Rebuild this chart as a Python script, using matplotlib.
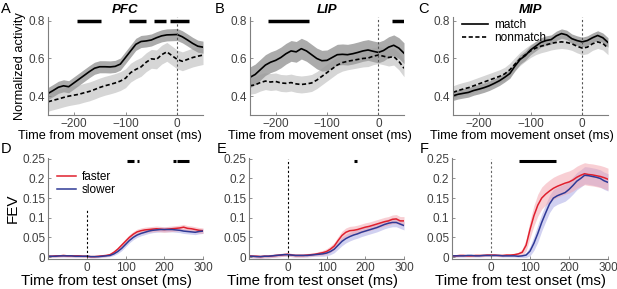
import numpy as np
import matplotlib
matplotlib.use("Agg")
import matplotlib.pyplot as plt

plt.rcParams['font.family'] = ['Liberation Sans', 'DejaVu Sans']

# ---- top row: normalized activity around movement onset ----
t_top = np.arange(-250, 51, 10)

pfc_match = [0.414, 0.43, 0.447, 0.455, 0.45, 0.47, 0.49, 0.51, 0.53, 0.548, 0.556,
             0.556, 0.555, 0.558, 0.57, 0.605, 0.64, 0.675, 0.69, 0.693, 0.698,
             0.71, 0.72, 0.725, 0.726, 0.727, 0.715, 0.698, 0.68, 0.665, 0.66]
pfc_nonmatch = [0.37, 0.378, 0.385, 0.393, 0.4, 0.405, 0.41, 0.418, 0.425, 0.435, 0.446,
                0.455, 0.462, 0.47, 0.48, 0.495, 0.525, 0.542, 0.555, 0.58, 0.598,
                0.595, 0.62, 0.635, 0.615, 0.595, 0.585, 0.595, 0.605, 0.612, 0.618]
lip_match = [0.50, 0.515, 0.54, 0.565, 0.58, 0.59, 0.605, 0.625, 0.64, 0.635, 0.652,
             0.64, 0.62, 0.6, 0.588, 0.59, 0.605, 0.62, 0.622, 0.62, 0.625,
             0.632, 0.64, 0.645, 0.638, 0.632, 0.642, 0.66, 0.67, 0.655, 0.628]
lip_nonmatch = [0.455, 0.46, 0.472, 0.48, 0.475, 0.478, 0.47, 0.468, 0.472, 0.465, 0.462,
                0.465, 0.47, 0.485, 0.505, 0.525, 0.545, 0.565, 0.578, 0.585, 0.59,
                0.595, 0.6, 0.602, 0.612, 0.618, 0.612, 0.605, 0.61, 0.585, 0.548]
mip_match = [0.402, 0.41, 0.415, 0.42, 0.43, 0.437, 0.445, 0.455, 0.468, 0.482, 0.5,
             0.52, 0.56, 0.595, 0.615, 0.645, 0.665, 0.685, 0.695, 0.7, 0.72,
             0.732, 0.725, 0.705, 0.695, 0.688, 0.695, 0.71, 0.722, 0.71, 0.685]
mip_nonmatch = [0.42, 0.43, 0.438, 0.445, 0.455, 0.465, 0.475, 0.485, 0.495, 0.505, 0.518,
                0.54, 0.57, 0.598, 0.62, 0.64, 0.655, 0.665, 0.672, 0.68, 0.685,
                0.688, 0.685, 0.678, 0.665, 0.655, 0.66, 0.678, 0.688, 0.68, 0.655]
# half widths of the shaded bands (match, nonmatch)
pfc_sem = (0.032, 0.05)
lip_sem = (0.055, 0.045)
mip_sem = (0.025, 0.035)

# significance bars (start, end) in ms
pfc_bars = [(-194, -147), (-94, -61), (-45, -22), (-13, 22)]
lip_bars = [(-214, -135), (26, 50)]
mip_bars = []

# ---- bottom row: FEV around test onset ----
t_bot = np.arange(-100, 301, 10)

d_fast = [0.002, 0.002, 0.003, 0.003, 0.004, 0.003, 0.003, 0.003, 0.003, 0.002, 0.002,
          0.001, 0.001, 0.002, 0.003, 0.004, 0.006, 0.012, 0.02, 0.03, 0.04,
          0.05, 0.058, 0.064, 0.067, 0.069, 0.07, 0.071, 0.072, 0.071, 0.07,
          0.071, 0.072, 0.073, 0.074, 0.076, 0.073, 0.072, 0.07, 0.068, 0.067]
d_slow = [0.002, 0.002, 0.002, 0.003, 0.003, 0.003, 0.003, 0.002, 0.002, 0.002, 0.002,
          0.001, 0.001, 0.001, 0.002, 0.003, 0.004, 0.008, 0.014, 0.022, 0.032,
          0.042, 0.05, 0.056, 0.06, 0.063, 0.066, 0.068, 0.069, 0.07, 0.07,
          0.07, 0.07, 0.069, 0.068, 0.066, 0.065, 0.064, 0.063, 0.065, 0.066]
e_fast = [0.003, 0.002, 0.002, 0.001, 0.002, 0.002, 0.003, 0.004, 0.005, 0.006, 0.007,
          0.005, 0.004, 0.004, 0.004, 0.005, 0.006, 0.007, 0.009, 0.011, 0.014,
          0.02, 0.028, 0.042, 0.055, 0.063, 0.067, 0.068, 0.07, 0.073, 0.076,
          0.078, 0.081, 0.084, 0.087, 0.09, 0.092, 0.096, 0.097, 0.092, 0.092]
e_slow = [0.002, 0.002, 0.001, 0.001, 0.002, 0.002, 0.003, 0.004, 0.005, 0.006, 0.006,
          0.005, 0.004, 0.004, 0.004, 0.004, 0.005, 0.006, 0.007, 0.008, 0.01,
          0.014, 0.02, 0.03, 0.04, 0.047, 0.052, 0.056, 0.059, 0.063, 0.066,
          0.069, 0.072, 0.075, 0.079, 0.083, 0.086, 0.088, 0.088, 0.084, 0.08]
f_fast = [0.003, 0.003, 0.004, 0.004, 0.003, 0.003, 0.004, 0.004, 0.004, 0.005, 0.005,
          0.005, 0.004, 0.004, 0.005, 0.005, 0.006, 0.008, 0.012, 0.03, 0.07,
          0.105, 0.132, 0.15, 0.16, 0.168, 0.175, 0.18, 0.184, 0.188, 0.191,
          0.196, 0.203, 0.208, 0.212, 0.21, 0.209, 0.207, 0.205, 0.202, 0.198]
f_slow = [0.003, 0.003, 0.003, 0.003, 0.004, 0.004, 0.003, 0.003, 0.004, 0.004, 0.004,
          0.004, 0.004, 0.003, 0.003, 0.003, 0.003, 0.002, 0.003, 0.005, 0.015,
          0.035, 0.06, 0.088, 0.112, 0.135, 0.15, 0.156, 0.16, 0.164, 0.172,
          0.182, 0.193, 0.2, 0.208, 0.207, 0.205, 0.203, 0.2, 0.194, 0.19]
# band half widths, same time base
d_fast_sem = [0.003] * 17 + [0.004, 0.005, 0.006] + [0.007] * 21
d_slow_sem = [0.003] * 17 + [0.004, 0.005, 0.006] + [0.006] * 21
e_fast_sem = [0.004] * 17 + [0.004, 0.005, 0.006, 0.007, 0.008, 0.009, 0.01] + [0.011] * 17
e_slow_sem = [0.004] * 17 + [0.004, 0.005, 0.006, 0.007, 0.008, 0.009, 0.01] + [0.011] * 17
f_fast_sem = [0.003] * 17 + [0.004, 0.008, 0.015, 0.022, 0.026] + [0.028] * 19
f_slow_sem = [0.003] * 17 + [0.003, 0.004, 0.006, 0.012, 0.018] + [0.022] * 19

d_bars = [(103, 123), (129, 134), (222, 231), (232, 265)]
e_bars = [(171, 179)]
f_bars = [(73, 167)]

red = '#e0202e'
blue = '#2f3a96'
tick_col = '#404040'
spine_col = '#7f7f7f'


def style(ax):
    for s in ['top', 'right']:
        ax.spines[s].set_visible(False)
    for s in ['left', 'bottom']:
        ax.spines[s].set_color(spine_col)
        ax.spines[s].set_linewidth(0.8)
    ax.tick_params(direction='in', length=2.5, width=0.6, colors=spine_col,
                   labelcolor=tick_col, labelsize=8.5, pad=2)


# axes edges in pixels of the 617x289 picture
W, H = 617, 289
top_pos = [(48, 203), (250, 404), (453, 608)]
bot_pos = [(48, 203), (249, 404), (452, 608)]
top_label_x = [0.40, 0.455, 0.445]
bot_label_x = [0.375, 0.41, 0.44]

fig = plt.figure(figsize=(W / 100, H / 100), dpi=100)

top_sets = [
    ('PFC', pfc_match, pfc_nonmatch, pfc_sem, pfc_bars, 'A'),
    ('LIP', lip_match, lip_nonmatch, lip_sem, lip_bars, 'B'),
    ('MIP', mip_match, mip_nonmatch, mip_sem, mip_bars, 'C'),
]
for i, (name, m, nm, sem, bars, letter) in enumerate(top_sets):
    l, r = top_pos[i]
    ax = fig.add_axes([l / W, 1 - 115 / H, (r - l) / W, (115 - 17) / H])
    m = np.array(m)
    nm = np.array(nm)
    ax.fill_between(t_top, nm - sem[1], nm + sem[1], color='#d6d6d6', lw=0)
    ax.fill_between(t_top, m - sem[0], m + sem[0], color='#9c9c9c', lw=0, alpha=0.85)
    ax.plot(t_top, m, color='black', lw=1.2, label='match')
    ax.plot(t_top, nm, color='black', lw=1.2, ls=(0, (2.5, 1.5)), label='nonmatch')
    ax.axvline(0, color='#555555', lw=0.8, ls=(0, (2, 2)))
    for a, b in bars:
        ax.plot([a, b], [0.8, 0.8], color='black', lw=2.5, solid_capstyle='butt')
    ax.set_xlim(-250, 50)
    ax.set_ylim(0.3, 0.82)
    ax.set_xticks([-200, -100, 0])
    ax.set_yticks([0.4, 0.6, 0.8])
    style(ax)
    ax.set_xlabel('Time from movement onset (ms)', fontsize=9.2)
    ax.xaxis.set_label_coords(top_label_x[i], -0.155)
    ax.set_title(name, fontsize=9.5, fontweight='bold', fontstyle='italic', pad=3)
    if i == 0:
        ax.set_ylabel('Normalized activity', fontsize=9.3, labelpad=2)
    if i == 2:
        ax.legend(loc='upper left', frameon=False, fontsize=8.5, handlelength=2.2,
                  borderaxespad=0.1, labelspacing=0.1, handletextpad=0.5,
                  bbox_to_anchor=(0.02, 1.04))
    fig.text(1 / W if i == 0 else (l - 35) / W, 1 - 9 / H, letter,
             fontsize=10.5, va='center', ha='left')

bot_sets = [
    (d_fast, d_slow, d_fast_sem, d_slow_sem, d_bars, 'D', 0.12, 'black'),
    (e_fast, e_slow, e_fast_sem, e_slow_sem, e_bars, 'E', 0.25, 'black'),
    (f_fast, f_slow, f_fast_sem, f_slow_sem, f_bars, 'F', 0.25, '#666666'),
]
for i, (fa, sl, fs, ss, bars, letter, vtop, vcol) in enumerate(bot_sets):
    l, r = bot_pos[i]
    ax = fig.add_axes([l / W, 1 - 259 / H, (r - l) / W, (259 - 158) / H])
    fa, sl, fs, ss = map(np.array, (fa, sl, fs, ss))
    ax.fill_between(t_bot, sl - ss, sl + ss, color='#9a9ae0', alpha=0.45, lw=0)
    ax.fill_between(t_bot, fa - fs, fa + fs, color='#f3a0aa', alpha=0.5, lw=0)
    ax.plot(t_bot, fa, color=red, lw=1.1, label='faster')
    ax.plot(t_bot, sl, color=blue, lw=1.1, label='slower')
    ax.plot([0, 0], [0, vtop], color=vcol, lw=0.8, ls=(0, (2, 2)))
    for a, b in bars:
        ax.plot([a, b], [0.245, 0.245], color='black', lw=2.2, solid_capstyle='butt')
    ax.set_xlim(-100, 300)
    ax.set_ylim(-0.005, 0.252)
    ax.set_xticks([0, 100, 200, 300])
    ax.set_yticks([0, 0.05, 0.1, 0.15, 0.2, 0.25])
    ax.set_yticklabels(['0', '0.05', '0.1', '0.15', '0.2', '0.25'])
    style(ax)
    ax.set_xlabel('Time from test onset (ms)', fontsize=10.8)
    ax.xaxis.set_label_coords(bot_label_x[i], -0.15)
    if i == 0:
        ax.set_ylabel('FEV', fontsize=11, labelpad=2)
        ax.legend(loc='upper left', frameon=False, fontsize=8.5, handlelength=1.6,
                  borderaxespad=0.1, labelspacing=0.1, handletextpad=0.5,
                  bbox_to_anchor=(0.02, 0.93))
    fig.text(1 / W if i == 0 else (l - 32) / W, 1 - 149 / H, letter,
             fontsize=10.5, va='center', ha='left')

fig.savefig('out.png', dpi=100)
